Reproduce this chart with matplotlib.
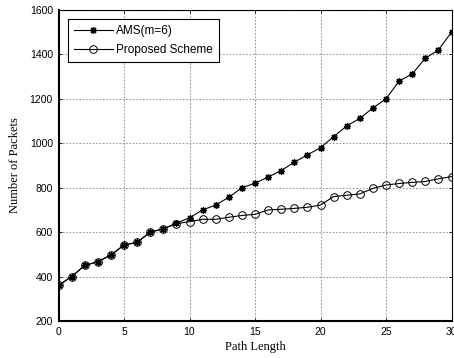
import matplotlib.pyplot as plt
import numpy as np

path_length = np.arange(0, 31)
ams = [360, 400, 450, 467, 497, 542, 554, 600, 615, 640, 665,
       700, 722, 757, 800, 820, 848, 877, 915, 948, 980,
       1030, 1078, 1112, 1159, 1200, 1280, 1312, 1383, 1420, 1500]
proposed = [360, 400, 450, 467, 497, 542, 554, 600, 615, 638, 647,
            658, 658, 667, 675, 680, 700, 703, 707, 712, 722,
            760, 766, 772, 797, 812, 819, 824, 828, 840, 850]

fig = plt.figure(figsize=(4.54, 3.58), dpi=100)
ax = fig.add_axes([58.5 / 454, 37 / 358, 393 / 454, 311 / 358])

ax.plot(path_length, ams, color='black', lw=0.8, marker=(8, 2, 0),
        markersize=5, markeredgewidth=0.9, label='AMS(m=6)')
ax.plot(path_length, proposed, color='black', lw=0.8, marker='o',
        markersize=5.5, markerfacecolor='none', markeredgewidth=0.7,
        label='Proposed Scheme')

ax.set_xlim(0, 30)
ax.set_ylim(200, 1600)
ax.set_xticks([0, 5, 10, 15, 20, 25, 30])
ax.set_yticks(range(200, 1601, 200))
ax.grid(True, color='#999999', linestyle=(0, (1.5, 1.5)), linewidth=0.8)
ax.tick_params(direction='in', length=2.5, labelsize=7.5, width=0.6,
               top=True, right=True, pad=4)
for lab in ax.get_xticklabels() + ax.get_yticklabels():
    lab.set_family('Liberation Sans')
for sp in ax.spines.values():
    sp.set_linewidth(0.8)
ax.spines['left'].set_linewidth(1.5)
ax.spines['bottom'].set_linewidth(1.5)

ax.set_xlabel('Path Length', family='Liberation Serif', fontsize=9, labelpad=3)
ax.set_ylabel('Number of Packets', family='Liberation Serif', fontsize=9, labelpad=6)

leg = ax.legend(loc='upper left', prop={'family': 'Liberation Sans', 'size': 8.5},
                fancybox=False, framealpha=1, edgecolor='black',
                borderaxespad=0.8, handlelength=3.3, handletextpad=0.3,
                labelspacing=0.6, borderpad=0.5)
leg.get_frame().set_linewidth(0.8)

plt.savefig('out.png', dpi=100)
